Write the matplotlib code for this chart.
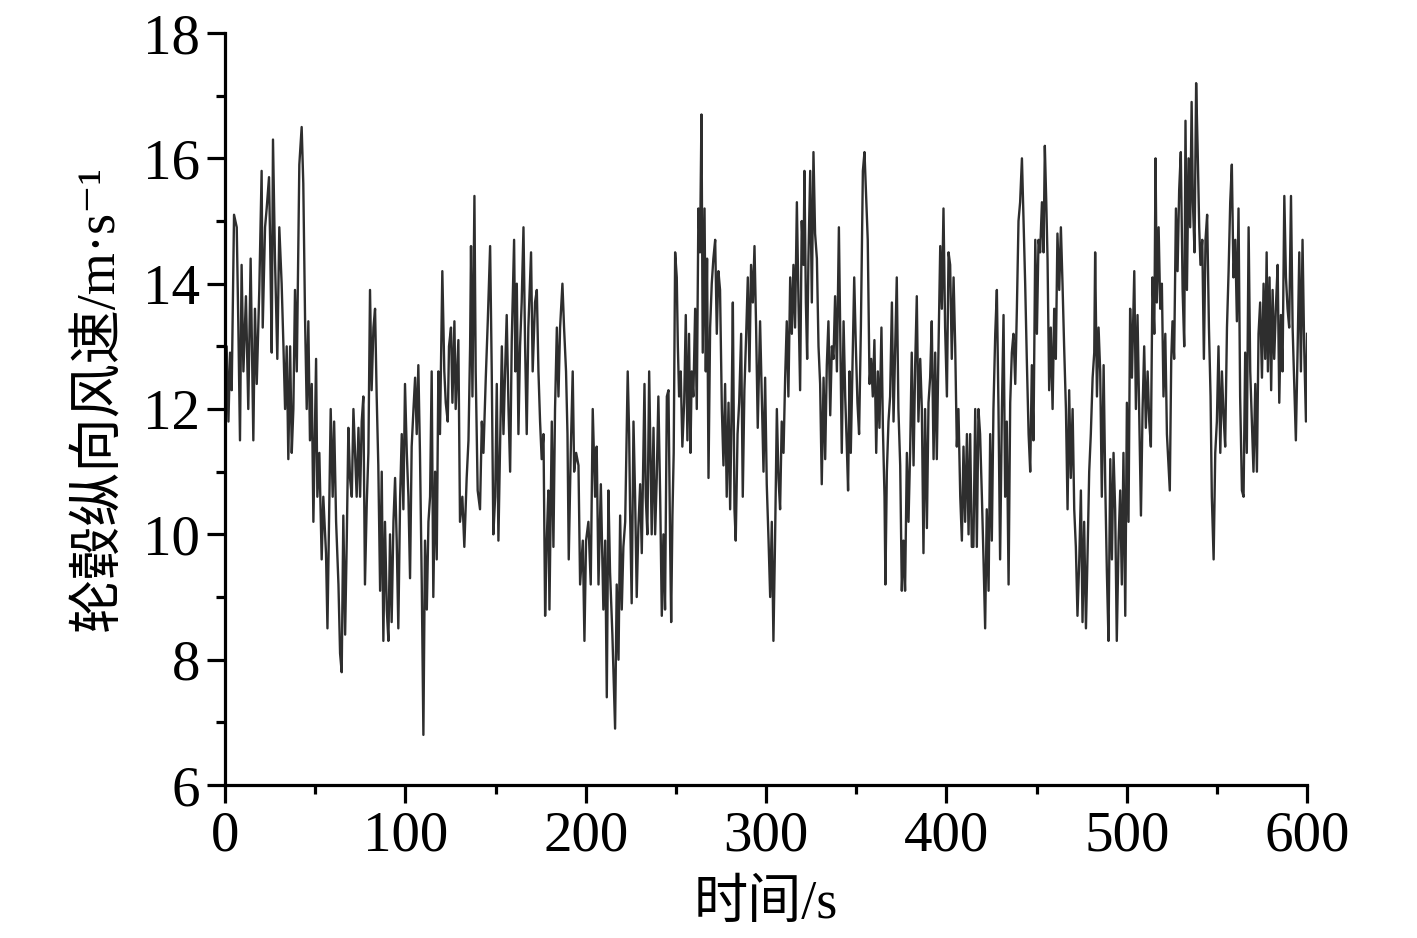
import numpy as np
import matplotlib
matplotlib.use("Agg")
import matplotlib.pyplot as plt
from matplotlib.ticker import MultipleLocator

plt.rcParams['font.family'] = ['Liberation Serif', 'Noto Sans CJK SC', 'DejaVu Serif']

# ── Hub longitudinal wind speed (time in s, speed in m/s) ──
t1 = [0.0, 0.9, 1.9, 2.8, 3.7, 5.0, 6.5, 7.4, 8.3, 9.2,
      10.2, 11.6, 12.9, 14.2, 15.7, 16.6, 17.6, 19.0, 20.3, 20.9,
      22.2, 23.1, 24.4, 25.0, 25.9, 26.6, 27.7, 29.0, 30.1, 31.4,
      32.4, 33.3, 34.2, 35.1, 36.1, 37.0, 37.9, 38.8, 39.8, 41.2,
      42.5, 43.4, 44.4, 45.3, 46.2, 47.1, 48.1, 49.0, 50.5, 51.2,
      52.3, 53.6, 54.5, 56.0, 56.8, 57.9, 58.6, 59.7, 60.5, 61.6,
      62.9, 63.8, 64.7, 65.6, 66.6, 67.5, 68.4, 69.3, 70.3, 71.2]
v1 = [12.3, 13.0, 11.8, 12.9, 12.3, 15.1, 14.9, 13.3, 11.5, 14.3,
      12.6, 13.8, 12.0, 14.4, 11.5, 13.6, 12.4, 13.9, 15.8, 13.3,
      14.9, 15.2, 15.7, 14.7, 12.9, 16.3, 14.4, 12.8, 14.9, 14.0,
      13.0, 12.0, 13.0, 11.2, 13.0, 11.3, 12.0, 13.9, 12.6, 15.9,
      16.5, 15.6, 13.4, 12.0, 13.4, 11.5, 12.4, 10.2, 12.8, 10.6,
      11.3, 9.6, 10.6, 9.7, 8.5, 10.6, 12.0, 10.6, 11.8, 10.2,
      9.2, 8.1, 7.8, 10.3, 8.4, 9.9, 11.7, 10.9, 10.6, 12.0]

t2 = [73.0, 74.0, 74.9, 75.8, 76.7, 77.6, 78.6, 79.5, 80.4, 81.3,
      82.3, 83.2, 84.1, 85.0, 86.0, 86.9, 87.8, 88.7, 89.7, 90.6,
      91.5, 92.4, 93.4, 94.3, 95.2, 96.1, 97.1, 98.0, 98.9, 99.8,
      100.8, 101.7, 102.6, 103.5, 104.5, 105.4, 106.3, 107.2, 108.1, 109.1,
      110.0, 110.9, 111.9, 112.8, 113.7, 114.6, 115.5, 116.5, 117.4, 118.3,
      119.2, 120.5, 121.6, 122.4, 123.5, 124.2, 125.3, 126.1, 127.2, 127.9,
      129.4, 130.3, 131.6, 132.7, 134.0, 135.0, 135.9, 136.4, 137.2, 138.3,
      139.0, 140.1, 141.4, 142.4, 143.3, 144.6, 145.7, 147.0, 147.9, 148.8]
v2 = [10.6, 11.7, 10.6, 11.8, 12.2, 9.2, 10.5, 11.3, 13.9, 12.3,
      13.3, 13.6, 12.2, 11.1, 9.1, 11.0, 8.3, 10.2, 8.8, 8.3,
      10.0, 8.6, 10.2, 10.9, 9.9, 8.5, 10.6, 11.6, 10.4, 12.4,
      11.3, 10.6, 9.3, 11.4, 12.0, 12.5, 11.6, 12.7, 11.3, 9.2,
      6.8, 9.9, 8.8, 10.2, 10.6, 12.6, 9.0, 11.0, 9.6, 12.6,
      11.6, 14.2, 12.6, 12.1, 11.8, 13.0, 13.3, 12.1, 13.4, 12.0,
      13.1, 10.2, 10.6, 9.8, 10.9, 11.5, 13.0, 14.6, 12.2, 15.4,
      12.6, 10.7, 10.4, 11.8, 11.3, 12.5, 13.4, 14.6, 12.6, 10.0]

t3 = [149.8, 150.7, 151.6, 152.5, 153.5, 154.4, 155.3, 156.2, 157.2, 158.1,
      159.0, 160.3, 161.0, 161.8, 162.7, 163.6, 164.5, 165.5, 166.4, 167.3,
      168.2, 169.7, 170.6, 171.9, 172.9, 173.8, 174.7, 175.6, 176.6, 177.5,
      178.4, 179.3, 179.9, 181.2, 182.1, 183.0, 184.0, 184.9, 185.8, 187.1,
      188.0, 189.1, 189.9, 190.6, 191.7, 192.8, 193.6, 194.7, 196.0, 196.9,
      198.4, 199.3, 200.2, 201.5, 202.8, 203.9, 205.2, 206.1, 207.1, 208.4,
      209.8, 210.8, 211.7, 212.6, 213.5, 214.8, 216.3, 217.2, 218.2, 219.1,
      220.0, 220.9, 221.9]
v3 = [10.6, 12.4, 9.9, 11.4, 13.0, 11.6, 12.6, 13.5, 12.0, 11.0,
      13.1, 14.7, 12.6, 14.0, 11.6, 13.0, 13.7, 14.9, 13.0, 11.6,
      13.3, 14.5, 12.6, 13.7, 13.9, 12.6, 11.8, 11.2, 11.6, 8.7,
      9.9, 10.7, 8.8, 11.8, 9.8, 12.0, 13.3, 12.2, 13.3, 14.0,
      13.3, 12.6, 11.6, 9.6, 11.3, 12.6, 11.0, 11.3, 11.1, 9.2,
      9.9, 8.3, 9.9, 10.2, 9.2, 12.0, 10.6, 11.4, 9.2, 10.8,
      8.8, 9.9, 7.4, 10.7, 9.4, 8.4, 6.9, 9.2, 8.0, 10.3,
      8.8, 9.8, 10.2]

t4 = [223.3, 224.1, 224.6, 225.5, 226.5, 227.4, 228.3, 229.2, 230.2, 231.1,
      232.0, 232.6, 233.3, 234.2, 235.2, 235.9, 236.6, 237.6, 238.5, 239.4,
      240.3, 241.3, 242.2, 243.1, 244.0, 245.0, 245.9, 246.8, 247.4, 248.1,
      248.8, 249.6, 250.5, 251.1, 251.8, 252.7, 253.6, 254.6, 255.5, 256.4,
      257.3, 258.1, 258.8, 259.7, 260.7, 261.6, 262.5, 263.4, 264.2, 264.9,
      265.9, 266.6, 267.3, 268.1, 269.0, 269.9, 270.8, 271.8, 272.7, 273.6,
      274.5, 275.5, 276.4, 277.3, 278.2, 279.2, 280.1, 281.0, 281.6, 282.5,
      283.2, 284.2, 285.1, 286.2, 287.1, 288.0, 289.0, 289.9, 290.8, 291.7,
      292.7, 293.6, 294.5, 295.4, 296.7]
v4 = [12.6, 11.6, 10.4, 8.9, 11.8, 10.6, 9.0, 10.1, 10.8, 9.7,
      11.3, 12.4, 10.6, 10.0, 12.6, 11.3, 10.0, 11.7, 10.0, 10.9,
      12.2, 10.6, 8.7, 10.0, 8.8, 12.2, 12.3, 9.9, 8.6, 10.3,
      11.3, 14.5, 14.1, 13.0, 12.2, 12.6, 11.4, 12.1, 13.5, 11.5,
      13.2, 11.3, 12.6, 12.2, 13.6, 12.0, 15.2, 14.5, 16.7, 12.9,
      15.2, 12.6, 14.4, 10.9, 13.3, 14.0, 14.4, 14.7, 13.2, 14.2,
      13.9, 12.0, 11.1, 12.4, 10.6, 12.1, 10.4, 12.2, 13.7, 10.4,
      9.9, 11.6, 12.1, 13.2, 10.6, 12.3, 13.2, 14.1, 12.6, 14.3,
      13.7, 14.6, 13.3, 11.7, 13.4]

t5 = [298.6, 299.5, 300.4, 301.4, 302.3, 303.2, 304.1, 305.0, 306.0, 306.9,
      307.8, 308.7, 309.7, 310.6, 311.5, 312.4, 313.4, 314.3, 315.2, 316.1,
      317.1, 318.0, 318.9, 319.8, 320.8, 321.3, 322.1, 322.8, 323.5, 324.5,
      325.4, 326.3, 327.2, 328.2, 329.1, 330.0, 330.9, 331.9, 332.8, 333.7,
      334.6, 335.6, 336.5, 337.4, 338.3, 339.3, 340.4, 341.1, 342.0, 343.0,
      343.9, 344.8, 345.5, 346.3, 347.0, 348.0, 348.9, 349.8, 350.7, 351.6,
      352.6, 353.7, 354.6, 355.5, 356.4, 357.4, 358.3, 359.2, 360.1, 361.1,
      362.0, 362.9, 364.0, 364.8, 365.7, 366.2, 367.0, 367.9, 368.8, 369.8,
      370.7]
v5 = [11.0, 12.5, 10.8, 9.9, 9.0, 10.2, 8.3, 9.9, 12.0, 10.9,
      10.4, 11.8, 11.3, 12.5, 13.4, 12.2, 14.1, 13.2, 14.3, 13.3,
      15.3, 13.7, 12.3, 15.0, 14.3, 15.8, 13.7, 12.8, 14.4, 15.8,
      13.7, 16.1, 14.8, 14.4, 13.0, 12.4, 10.8, 12.5, 11.2, 12.7,
      13.4, 11.9, 13.0, 12.8, 13.8, 12.6, 14.9, 13.3, 11.3, 13.4,
      12.2, 11.4, 10.7, 12.6, 11.3, 12.8, 14.1, 13.0, 12.1, 11.6,
      13.3, 15.8, 16.1, 15.4, 14.7, 12.4, 12.8, 12.2, 13.1, 11.3,
      12.6, 11.7, 13.3, 11.7, 10.6, 9.2, 11.0, 11.8, 12.2, 13.7,
      11.8]

t6 = [372.5, 373.4, 374.4, 375.3, 376.2, 377.1, 378.1, 379.0, 379.9, 380.8,
      381.8, 382.7, 383.6, 384.5, 385.5, 386.4, 387.3, 388.2, 389.2, 390.1,
      391.0, 391.9, 392.9, 393.8, 394.7, 395.6, 396.6, 397.5, 398.4, 399.3,
      400.3, 401.2, 402.1, 403.0, 404.0, 404.9, 405.8, 406.7, 407.7, 408.6,
      409.5, 410.4, 411.4, 412.3, 413.2, 414.1, 415.0, 416.0, 416.9, 417.8,
      418.7, 419.7, 420.6, 421.5, 422.4, 423.4, 424.3, 425.2, 426.1, 427.1,
      428.0, 428.9, 429.8, 430.8, 431.7, 432.6, 433.5, 434.5, 435.4, 436.3,
      437.2, 438.2, 439.1, 440.0, 440.9, 441.9, 442.8, 443.7, 444.6, 445.6,
      446.5, 447.4]
v6 = [14.1, 12.0, 11.1, 9.1, 9.9, 9.1, 11.3, 10.2, 11.3, 12.9,
      11.1, 12.7, 13.8, 11.8, 12.8, 12.0, 9.7, 12.0, 10.1, 12.1,
      12.5, 13.4, 11.2, 12.9, 11.2, 12.9, 14.6, 13.6, 15.2, 13.3,
      12.2, 14.5, 14.3, 12.8, 14.1, 13.0, 11.4, 12.0, 10.6, 9.9,
      11.4, 10.2, 11.6, 10.0, 11.6, 9.8, 9.8, 12.0, 9.8, 12.0,
      11.6, 10.6, 9.6, 8.5, 10.4, 9.1, 11.6, 9.9, 12.0, 13.2,
      13.9, 12.0, 9.6, 12.0, 13.5, 10.6, 11.8, 9.2, 12.1, 12.9,
      13.2, 12.4, 13.6, 15.0, 15.3, 16.0, 15.0, 14.0, 12.8, 11.6,
      11.0, 12.7]

t7 = [448.3, 449.3, 450.2, 451.1, 452.0, 453.0, 453.9, 454.6, 455.4, 456.1,
      457.0, 457.9, 458.9, 459.8, 460.7, 461.6, 462.6, 463.5, 464.4, 465.3,
      466.3, 467.2, 468.1, 469.0, 470.0, 470.9, 471.8, 472.7, 473.7, 474.6,
      475.5, 476.4, 477.4, 478.3, 479.2, 480.1, 481.1, 482.0, 482.5, 483.5,
      484.4, 485.3, 486.2, 487.2, 488.1, 489.0, 489.9, 490.9, 491.8, 492.7,
      493.6, 494.5, 495.5, 496.4, 497.3, 498.2, 499.2, 500.1, 501.0, 501.9,
      502.9, 504.2, 505.1, 506.0, 506.9, 507.9, 508.8, 509.7, 510.6, 511.6,
      512.5, 513.4, 514.3, 515.3, 516.0, 516.7, 517.7, 518.6, 519.5, 520.4,
      521.4, 522.3]
v7 = [11.5, 14.7, 13.2, 14.7, 14.5, 15.3, 14.5, 16.2, 15.3, 14.4,
      12.3, 13.3, 12.0, 13.6, 12.8, 14.8, 13.9, 14.9, 14.0, 13.0,
      12.0, 10.4, 12.3, 10.9, 12.0, 10.4, 9.8, 8.7, 9.6, 10.7,
      8.6, 10.2, 8.5, 9.7, 11.0, 11.6, 12.5, 12.9, 14.5, 12.2,
      13.3, 12.6, 10.6, 12.7, 10.8, 9.4, 8.3, 11.2, 9.6, 11.3,
      10.4, 8.3, 9.9, 10.7, 9.2, 11.3, 8.7, 12.1, 10.2, 13.6,
      12.5, 14.2, 12.0, 13.5, 12.0, 10.3, 12.0, 13.0, 11.7, 12.6,
      11.8, 11.4, 14.1, 13.2, 16.0, 13.7, 14.9, 13.6, 14.0, 12.2,
      13.2, 11.6]

t8 = [523.9, 524.7, 525.4, 526.3, 527.3, 528.2, 529.1, 530.0, 531.0, 531.9,
      532.6, 533.4, 534.3, 535.2, 536.0, 536.7, 537.6, 538.5, 539.3, 540.2,
      540.9, 541.9, 542.8, 543.7, 544.6, 545.6, 546.5, 547.2, 548.2, 549.1,
      550.0, 550.9, 551.9, 552.8, 553.7, 554.6, 555.6, 556.5, 557.4, 558.3,
      559.2, 560.2, 561.1, 562.0, 562.9, 563.9, 564.8, 565.7, 566.6, 567.6,
      568.5, 569.4, 570.3, 571.3, 572.2, 573.1, 574.0, 575.0, 575.9, 576.8,
      577.6, 578.3, 579.2, 580.1, 580.9, 581.8, 582.7, 583.7, 584.6, 585.5,
      586.4, 587.4, 588.3, 589.2, 590.1, 591.1, 592.0, 592.9, 593.8, 594.8,
      595.7, 596.6, 597.5, 598.4, 599.4, 600.0]
v8 = [10.7, 12.8, 13.4, 12.8, 15.2, 14.2, 15.5, 16.1, 13.9, 13.0,
      16.6, 13.9, 16.0, 14.9, 16.9, 15.3, 14.5, 17.2, 16.2, 14.9,
      14.3, 14.7, 12.8, 14.7, 15.1, 13.3, 12.2, 10.6, 9.6, 11.3,
      11.8, 13.0, 11.3, 12.6, 11.9, 11.4, 13.3, 14.2, 15.3, 15.9,
      14.1, 14.7, 13.4, 15.2, 12.2, 10.7, 10.6, 12.9, 11.3, 14.9,
      12.6, 11.8, 11.0, 12.4, 11.0, 13.2, 13.7, 12.5, 14.0, 12.8,
      14.5, 12.6, 14.1, 12.3, 13.9, 12.8, 13.6, 14.3, 12.1, 13.5,
      12.6, 15.4, 14.1, 13.6, 13.3, 15.4, 13.3, 12.4, 11.5, 13.0,
      14.5, 12.6, 14.7, 13.0, 11.8, 13.2]

time_s = np.concatenate([t1, t2, t3, t4, t5, t6, t7, t8])
speed = np.concatenate([v1, v2, v3, v4, v5, v6, v7, v8])

# ── Plot ──────────────────────────────────────────────────────────────────────
fig = plt.figure(figsize=(14.17, 9.38), dpi=100)
ax = fig.add_axes([0.1588, 0.1631, 0.7636, 0.8017])

ax.plot(time_s, speed, color='#2e2e2e', linewidth=1.7)

ax.set_xlim(0, 600)
ax.set_ylim(6, 18)
ax.xaxis.set_major_locator(MultipleLocator(100))
ax.xaxis.set_minor_locator(MultipleLocator(50))
ax.yaxis.set_major_locator(MultipleLocator(2))
ax.yaxis.set_minor_locator(MultipleLocator(1))

for side in ('top', 'right'):
    ax.spines[side].set_visible(False)
for side in ('left', 'bottom'):
    ax.spines[side].set_linewidth(2.3)

ax.tick_params(which='major', direction='out', length=13, width=2.3,
               labelsize=41, pad=5)
ax.tick_params(which='minor', direction='out', length=6.5, width=2.3)

ax.set_xlabel('时间/s', fontsize=39)
ax.set_ylabel('轮毂纵向风速/m·s⁻¹', fontsize=39)
ax.xaxis.set_label_coords(0.5, -0.125)
ax.yaxis.set_label_coords(-0.092, 0.515)

fig.savefig('out.png', dpi=100)
plt.close(fig)
